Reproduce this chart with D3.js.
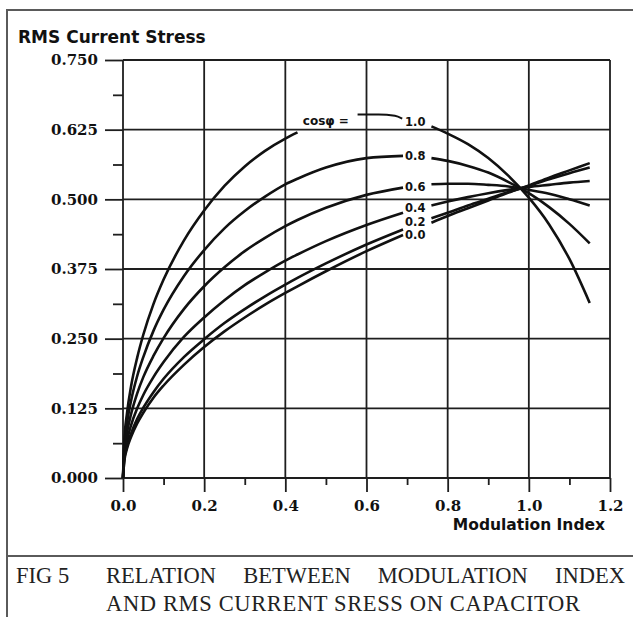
<!DOCTYPE html>
<meta charset="utf-8">
<head>
	<script src="https://d3js.org/d3.v7.min.js"></script>
	<style>
		body {
			margin: 0;
			background: #fff;
		}
		.grid line {
			stroke: #1e1e1e;
			stroke-width: 1.8px;
		}
		.axis path {
			display: none;
		}
		.axis line {
			stroke: #1e1e1e;
			stroke-width: 1.8px;
		}
		.axis text {
			font-family: "DejaVu Serif", serif;
			font-weight: bold;
			font-size: 15px;
			fill: #111;
		}
		.curve {
			fill: none;
			stroke: #111;
			stroke-width: 2.6px;
		}
		.frame {
			stroke: #5a5a5a;
			stroke-width: 2px;
		}
		.sans {
			font-family: "DejaVu Sans", sans-serif;
			font-weight: bold;
			fill: #111;
		}
		.caption {
			font-family: "Liberation Serif", "Times New Roman", serif;
			font-size: 22.5px;
			fill: #222;
		}
	</style>
</head>

<body>
	<div id="chart"></div>
</body>

<script type="text/javascript">
	// modulation index samples (x)
	var modIndex = [0, 0.003, 0.01, 0.02, 0.035, 0.05, 0.075, 0.1, 0.15, 0.2, 0.25, 0.3, 0.35, 0.4, 0.43,
		0.5, 0.6, 0.69, 0.725, 0.76, 0.8, 0.85, 0.9, 0.95, 1.0, 1.05, 1.1, 1.15];

	// RMS current stress, one array per cos(phi); null = break for the label
	var cos10 = [0, .064, .117, .165, .216, .257, .312, .356, .426, .480, .524, .559, .587, .609, .620,
		null, null, null, null, .631, .618, .599, .574, .542, .503, .455, .393, .314];
	var cos08 = [0, .054, .099, .139, .183, .217, .264, .302, .362, .409, .448, .479, .505, .527, .537,
		.557, .574, .578, null, .574, .569, .560, .548, .531, .511, .486, .456, .421];
	var cos06 = [0, .045, .082, .115, .152, .181, .219, .251, .303, .344, .378, .407, .431, .452, .463,
		.485, .508, .521, null, .527, .528, .528, .526, .523, .517, .510, .500, .489];
	var cos04 = [0, .037, .067, .095, .125, .149, .181, .208, .253, .288, .319, .346, .369, .390, .401,
		.425, .454, .476, null, .489, .496, .504, .511, .517, .522, .526, .530, .533];
	var cos02 = [0, .031, .057, .080, .106, .126, .154, .178, .217, .249, .278, .303, .326, .347, .359,
		.385, .419, .446, null, .466, .476, .489, .501, .513, .524, .536, .547, .557];
	var cos00 = [0, .029, .053, .074, .098, .117, .144, .166, .203, .235, .263, .288, .311, .332, .344,
		.371, .407, .436, null, .458, .470, .484, .498, .512, .525, .539, .552, .565];

	var curveLabels = ["1.0", "0.8", "0.6", "0.4", "0.2", "0.0"];
	var labelValues = [0.639, 0.578, 0.522, 0.484, 0.459, 0.436];

	var xTicks = [0, 0.2, 0.4, 0.6, 0.8, 1.0, 1.2];
	var xMinor = [0.1, 0.3, 0.5, 0.7, 0.9, 1.1];
	var yTicks = [0, 0.125, 0.25, 0.375, 0.5, 0.625, 0.75];
	var yMinor = [0.0625, 0.1875, 0.3125, 0.4375, 0.5625, 0.6875];

	var series = [cos10, cos08, cos06, cos04, cos02, cos00];

	var W = 633, H = 617;
	var margin = {left: 123, right: 23, top: 60, bottom: 139};
	var width = W - margin.left - margin.right,
		height = H - margin.top - margin.bottom;

	var svg = d3.select("#chart").append("svg")
		.attr("width", W)
		.attr("height", H);

	// frame round the figure and caption
	svg.append("line").attr("class", "frame").attr("x1", 7).attr("y1", 10).attr("x2", 7).attr("y2", H);
	svg.append("line").attr("class", "frame").attr("x1", 6).attr("y1", 10).attr("x2", W).attr("y2", 10);
	svg.append("line").attr("class", "frame").attr("x1", 6).attr("y1", 556).attr("x2", W).attr("y2", 556);

	var g = svg.append("g")
		.attr("transform", "translate(" + margin.left + "," + margin.top + ")");

	var x = d3.scaleLinear().domain([0, 1.2]).range([0, width]);
	var y = d3.scaleLinear().domain([0, 0.75]).range([height, 0]);

	// grid
	var grid = g.append("g").attr("class", "grid");
	grid.selectAll(".h").data(yTicks).enter().append("line")
		.attr("x1", 0).attr("x2", width)
		.attr("y1", function(d) { return y(d); })
		.attr("y2", function(d) { return y(d); });
	grid.selectAll(".v").data(xTicks).enter().append("line")
		.attr("y1", 0).attr("y2", height)
		.attr("x1", function(d) { return x(d); })
		.attr("x2", function(d) { return x(d); });

	// axes
	g.append("g").attr("class", "axis")
		.call(d3.axisLeft(y).tickValues(yTicks).tickSize(18).tickPadding(7).tickFormat(d3.format(".3f")));
	g.append("g").attr("class", "axis")
		.call(d3.axisLeft(y).tickValues(yMinor).tickSize(10).tickFormat(""));
	g.append("g").attr("class", "axis")
		.attr("transform", "translate(0," + height + ")")
		.call(d3.axisBottom(x).tickValues(xTicks).tickSize(14).tickPadding(8).tickFormat(d3.format(".1f")));
	g.append("g").attr("class", "axis")
		.attr("transform", "translate(0," + height + ")")
		.call(d3.axisBottom(x).tickValues(xMinor).tickSize(7).tickFormat(""));

	// curves
	var line = d3.line()
		.defined(function(d) { return d != null; })
		.x(function(d, i) { return x(modIndex[i]); })
		.y(function(d) { return y(d); })
		.curve(d3.curveMonotoneX);

	g.selectAll(".curve").data(series).enter().append("path")
		.attr("class", "curve")
		.attr("d", line);

	// curve labels
	g.selectAll(".clabel").data(curveLabels).enter().append("text")
		.attr("class", "sans")
		.attr("x", x(0.695))
		.attr("y", function(d, i) { return y(labelValues[i]); })
		.attr("dy", "0.36em")
		.style("font-size", "11.5px")
		.text(function(d) { return d; });

	g.append("text")
		.attr("class", "sans")
		.attr("x", x(0.443))
		.attr("y", y(0.641))
		.attr("dy", "0.36em")
		.style("font-size", "12px")
		.text("cos\u03c6 =");

	// leader from "cos phi =" to "1.0"
	var leadM = [0.578, 0.63, 0.67, 0.688];
	var leadV = [0.652, 0.652, 0.650, 0.645];
	g.append("path")
		.attr("class", "curve")
		.style("stroke-width", "2px")
		.attr("d", d3.line().curve(d3.curveMonotoneX)
			.x(function(d, i) { return x(leadM[i]); })
			.y(function(d) { return y(d); })(leadV));

	// axis titles
	svg.append("text")
		.attr("class", "sans")
		.attr("x", 18)
		.attr("y", 43)
		.style("font-size", "17px")
		.text("RMS Current Stress");

	svg.append("text")
		.attr("class", "sans")
		.attr("x", 605)
		.attr("y", 530)
		.style("text-anchor", "end")
		.style("font-size", "15.5px")
		.text("Modulation Index");

	// caption, first line justified between x=106 and x=625
	var capWords = ["RELATION", "BETWEEN", "MODULATION", "INDEX"];
	svg.append("text").attr("class", "caption").attr("x", 16).attr("y", 583).text("FIG 5");
	var words = svg.selectAll(".capw").data(capWords).enter().append("text")
		.attr("class", "caption capw")
		.attr("y", 583)
		.text(function(d) { return d; });
	var widths = words.nodes().map(function(n) { return n.getComputedTextLength(); });
	var gap = (625 - 106 - d3.sum(widths)) / (capWords.length - 1);
	var pos = 106;
	words.attr("x", function(d, i) {
		var p = pos;
		pos += widths[i] + gap;
		return p;
	});
	svg.append("text").attr("class", "caption")
		.attr("x", 106).attr("y", 611)
		.attr("textLength", 474)
		.attr("lengthAdjust", "spacing")
		.text("AND RMS CURRENT SRESS ON CAPACITOR");
</script>
